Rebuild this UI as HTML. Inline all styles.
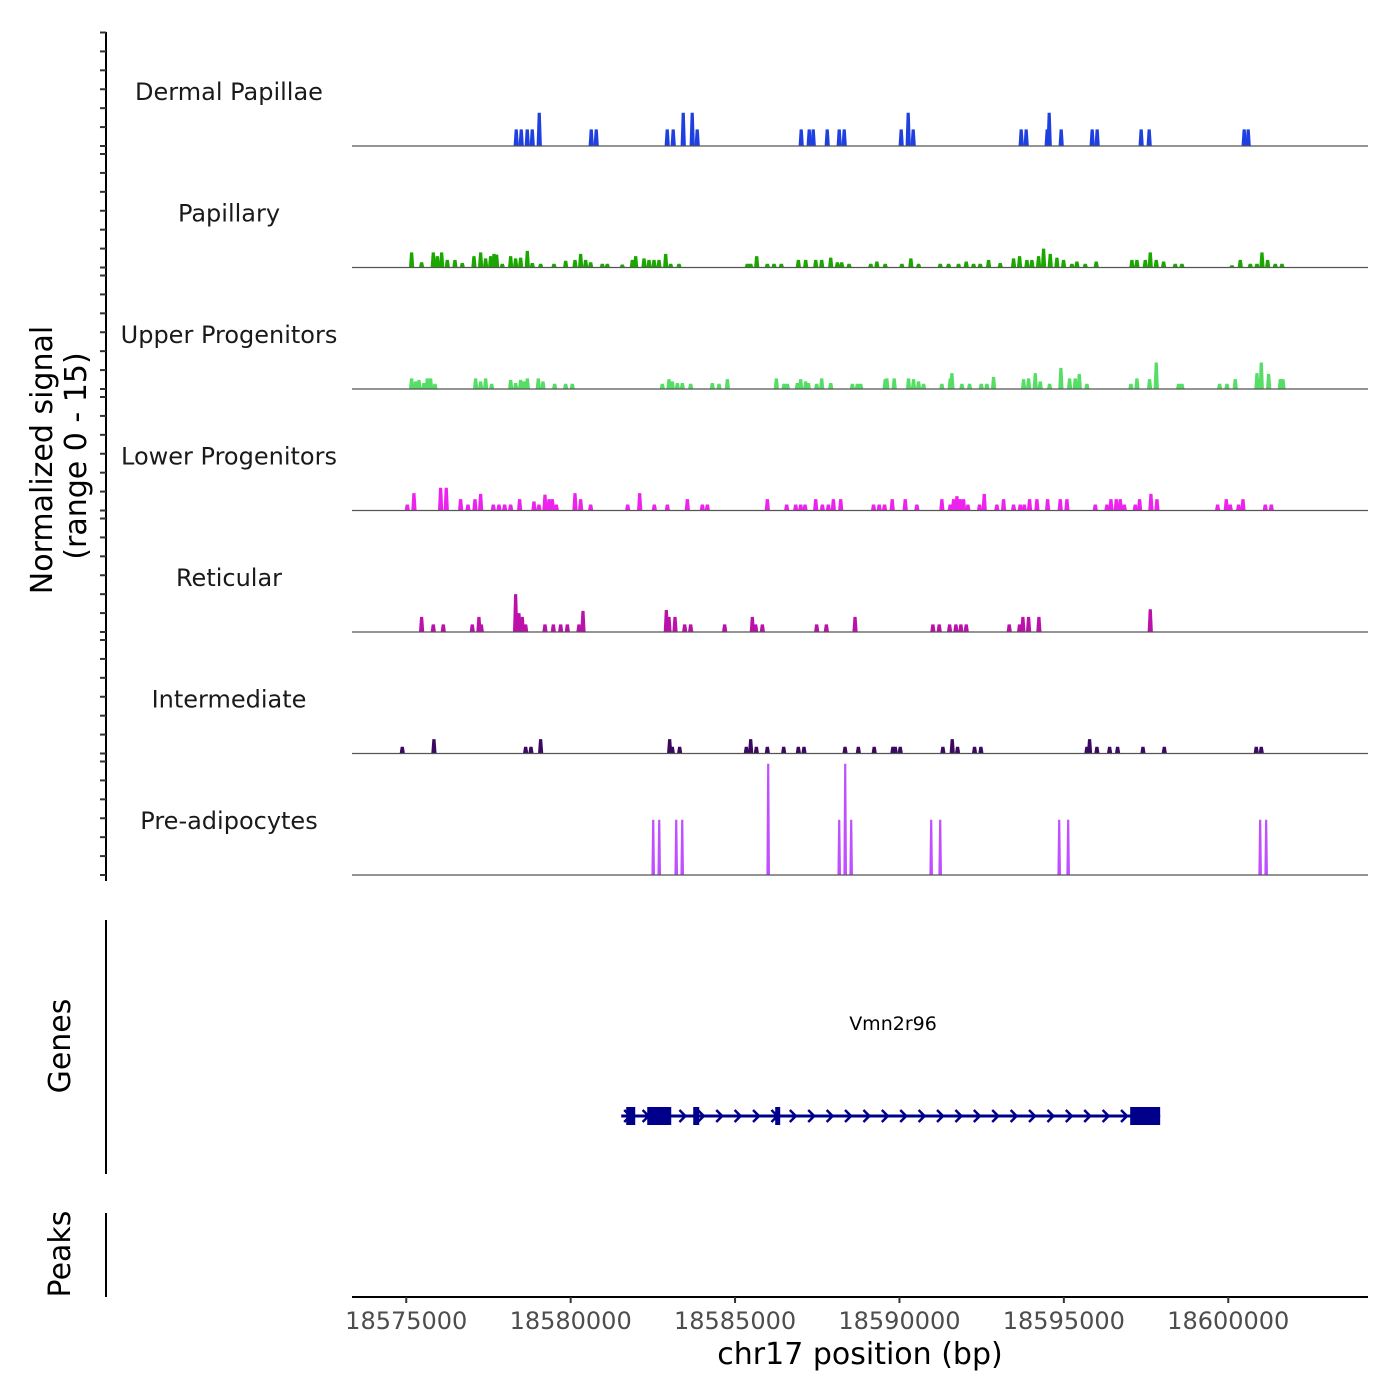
<!DOCTYPE html>
<html><head><meta charset="utf-8">
<style>
html,body{margin:0;padding:0;background:#fff;}
svg{display:block;font-family:"DejaVu Sans","Liberation Sans",sans-serif;}
</style></head>
<body>
<svg id="chart" width="1400" height="1400" viewBox="0 0 1400 1400">
<g id="tracks"></g>
<g id="axes"></g>
</svg>
<script>
// region / axis data
const REGION_START = 18573350;
const REGION_END = 18604250;
const OFFSET_BASE = 18575000;
const xTicks = [18575000, 18580000, 18585000, 18590000, 18595000, 18600000];
const yMax = 15;
const trackNames = ["Dermal Papillae","Papillary","Upper Progenitors","Lower Progenitors","Reticular","Intermediate","Pre-adipocytes"];
const trackColors = ["#1f40e0","#1aa800","#55dd66","#ee22ee","#bb11aa","#3b0a60","#c050ff"];

// peak positions (bp offset from 18,575,000) and heights (normalized signal)
const dermalPos = [3345,3497,3680,3832,4045,5626,5778,7937,8119,8424,8697,8849,12012,12255,12377,12803,13168,13320,15053,15266,15418,18702,18854,19493,19554,19919,20861,21013,22351,22595,25484,25606];
const dermalVal = [2.2,2.2,2.2,2.2,4.4,2.2,2.2,2.2,2.2,4.4,4.4,2.2,2.2,2.2,2.2,2.2,2.2,2.2,2.2,4.4,2.2,2.2,2.2,2.2,4.4,2.2,2.2,2.2,2.2,2.2,2.2,2.2];

const papPos = [163,467,822,944,1076,1248,1481,1704,2059,2262,2414,2566,2668,2749,2921,3175,3327,3479,3682,3834,4087,4493,4848,5132,5304,5456,5608,5963,6115,6571,6876,6977,7231,7383,7535,7687,7890,8042,8295,10374,10475,10658,10982,11185,11408,11925,12148,12453,12635,12909,13112,13244,13467,14126,
14313,14567,15074,15347,15581,16240,16493,16797,17031,17254,17456,17710,18065,18470,18653,18876,19028,19231,19383,19586,19789,19991,20245,20397,20651,20985,22070,22222,22476,22628,22810,23033,23388,23591,25112,25366,25670,25873,26025,26197,26430,26633];
const papVal = [2,0.7,2,1.5,2,1,1,0.6,1.5,2,1.2,1.5,1.8,1.7,0.5,1.5,1.2,1.3,2.2,0.6,0.5,0.5,0.9,1,1.8,1,0.7,0.5,0.5,0.4,1,1.5,1.2,1,1,1,1.8,0.5,0.5,0.5,0.5,1.5,0.5,0.5,0.5,1,1,1,1,1.3,0.7,0.7,0.5,0.5,
0.8,0.5,0.5,1.2,0.5,0.5,0.5,0.5,0.8,0.5,0.5,1,0.6,1.2,1.5,1,1,1.5,2.5,1.8,1.3,1,0.5,0.8,0.5,0.8,1,1,1,2,1,0.8,0.5,0.5,0.3,1,0.5,0.5,2,1,0.5,0.5];

const upPos = [163,285,386,538,640,741,873,2110,2262,2414,2597,3175,3327,3479,3580,3682,4016,4158,4513,4848,5050,7788,7991,8092,8244,8397,8650,9309,9512,9766,11256,11489,11591,11895,11996,12148,12230,12483,12635,12909,13568,13720,13822,
14567,14617,14840,15276,15428,15581,15733,16290,16544,16595,16899,17132,17487,17659,17862,18775,18927,19130,19282,19566,19910,20174,20346,20468,20701,22040,22222,22607,22810,23490,23591,24737,24960,25213,25873,26004,26228,26583,26664];
const upVal = [1.4,1,1.2,0.8,1.4,1.4,0.7,1.4,1,1.4,0.7,1.2,0.8,1.2,1,1.4,1.4,1,0.7,0.7,0.7,0.7,1.3,1,0.8,0.8,0.7,0.8,0.7,1.3,1.4,0.7,0.7,0.8,1.3,1,0.8,0.7,1.4,0.8,0.7,0.7,0.7,
1.3,1.4,1.4,1.4,1.3,1,0.7,0.7,1.4,2.1,0.7,0.7,0.7,0.7,1.6,1.3,1.4,2.1,1,0.7,2.8,1.4,1.4,2,0.7,0.7,1.4,1.3,3.5,0.7,0.7,0.7,0.7,1.3,2.1,3.5,2,1.3,1.3];

const lowPos = [31,234,1045,1217,1654,1877,2090,2262,2647,2820,2992,3175,3448,3884,4036,4219,4341,4442,4564,5132,5304,5608,6734,7099,7545,7941,8549,9005,9157,10982,11570,11844,11996,12128,12453,12655,12838,12990,13213,
14212,14384,14546,14779,15175,15530,16290,16544,16645,16747,16848,16949,17081,17436,17578,17963,18166,18470,18673,18795,18957,19180,19505,19890,20093,20955,21310,21431,21594,21715,21837,22172,22303,22648,22831,24676,24940,25061,25315,25447,26126,26309];
const lowVal = [0.8,2.3,3,3,1.5,0.8,1.5,2.2,0.8,0.8,0.8,0.8,1.5,1.2,0.8,2.1,1.5,1.5,0.8,2.3,1.5,0.8,0.8,2.3,0.8,0.8,1.5,0.8,0.8,1.5,0.8,0.8,0.8,0.8,1.5,0.8,0.8,1.5,1.5,
0.8,0.8,0.8,1.5,1.5,0.8,1.5,0.8,1.5,1.9,1.5,1.5,0.8,0.8,2.2,0.8,1.5,0.8,0.8,0.8,1.5,1.5,1.5,1.5,1.5,0.8,0.8,1.5,1.5,1.5,0.8,0.8,1.5,2.2,1.5,0.8,1.5,0.8,0.8,1.5,0.8,0.8];

const retPos = [467,822,1126,2008,2211,2282,3327,3428,3529,3631,4219,4473,4696,4899,5253,5375,7910,7991,8174,8468,8650,9684,10526,10627,10830,12483,12777,13649,16017,16209,16524,16716,16868,17031,18339,18653,18754,18927,19241,22628];
const retVal = [2,1,1,1,2,1,5,2.5,2,1,1,1,1,1,1,2.8,2.9,2,2,1,1,1,2,1,1,1,1,2,1,1,1,1,1,1,1,1,2,2,2,3];

const intPos = [-121,842,3631,3793,4087,8011,8092,8315,10343,10475,10648,10982,11479,11925,12097,13345,13750,14232,14800,14871,15023,16321,16605,16767,17284,17477,20701,20782,21005,21391,21634,22405,23054,25852,26004];
const intVal = [0.9,1.9,0.9,0.9,1.9,1.9,0.9,0.9,0.9,1.9,0.9,0.9,0.9,0.9,0.9,0.9,0.9,0.9,0.9,0.9,0.9,0.9,1.9,0.9,0.9,0.9,0.9,1.9,0.9,0.9,0.9,0.9,0.9,0.9,0.9];

const prePos = [7511,7694,8211,8393,11008,13168,13350,13532,15965,16239,19858,20131,25970,26153];
const preVal = [7.3,7.3,7.3,7.3,14.7,7.3,14.7,7.3,7.3,7.3,7.3,7.3,7.3,7.3];

// gene model (bp offsets)
const geneStart = 6538, geneEnd = 22929;
const exonStarts = [6690, 7329, 8728, 11221, 22017];
const exonEnds   = [6964, 8059, 8910, 11373, 22929];

const trackPos = [dermalPos,papPos,upPos,lowPos,retPos,intPos,prePos];
const trackVal = [dermalVal,papVal,upVal,lowVal,retVal,intVal,preVal];

// layout
const X0 = 352, X1 = 1368;
const baselines = [146, 267.5, 389, 510.5, 632, 753.5, 875];
const unitPx = 113.5 / yMax;
function xScale(bp){ return X0 + (bp - REGION_START) / (REGION_END - REGION_START) * (X1 - X0); }
function yScale(v, t){ return baselines[t] - v * unitPx; }

const NS = "http://www.w3.org/2000/svg";
function mk(tag, attrs, parent){ const e = document.createElementNS(NS, tag); for (const k in attrs) e.setAttribute(k, attrs[k]); parent.appendChild(e); return e; }

const tracks = document.getElementById('tracks');
const axes = document.getElementById('axes');

for (let t = 0; t < 7; t++) {
  const g = mk('g', {}, tracks);
  
  
  const lab = mk('text', {x: 229, y: baselines[t] - 46, 'text-anchor': 'middle', 'font-size': 24, fill: '#1a1a1a'}, g);
  lab.textContent = trackNames[t];
  
  
  const pos = trackPos[t], val = trackVal[t];
  const halfW = t === 6 ? 55 : 80;
  for (let i = 0; i < pos.length; i++) {
    const c = OFFSET_BASE + pos[i];
    const xa = xScale(c - halfW), xb = xScale(c + halfW);
    const xm1 = xScale(c - halfW * 0.6), xm2 = xScale(c + halfW * 0.6);
    const yb = baselines[t], yt = yScale(val[i], t);
    const p = mk('polygon', {points: `${xa},${yb} ${xm1},${yt} ${xm2},${yt} ${xb},${yb}`, fill: trackColors[t]}, g);
    
    
  }
  const bl = mk('line', {x1: X0, x2: X1, y1: baselines[t], y2: baselines[t], stroke: '#555', 'stroke-width': 1.2}, g);
  
  
}

// left y axis
const yax = mk('line', {x1: 106, x2: 106, y1: 32, y2: 881, stroke: '#000', 'stroke-width': 2}, axes);


for (let t = 0; t < 7; t++) {
  for (let k = 0; k <= 6; k++) {
    const y = yScale(k * 2.5, t);
    const tk = mk('line', {x1: 100, x2: 106, y1: y, y2: y, stroke: '#333', 'stroke-width': 2}, axes);
    
    
  }
}
const yt1 = mk('text', {x: 0, y: 0, transform: 'translate(52,460) rotate(-90)', 'text-anchor': 'middle', 'font-size': 30, fill: '#000'}, axes);
yt1.textContent = 'Normalized signal';


const yt2 = mk('text', {x: 0, y: 0, transform: 'translate(86,456) rotate(-90)', 'text-anchor': 'middle', 'font-size': 30, fill: '#000'}, axes);
yt2.textContent = '(range 0 - 15)';



// genes panel
const gax = mk('line', {x1: 106, x2: 106, y1: 920, y2: 1174, stroke: '#000', 'stroke-width': 2}, axes);


const gl = mk('text', {x: 0, y: 0, transform: 'translate(70,1046) rotate(-90)', 'text-anchor': 'middle', 'font-size': 30, fill: '#000'}, axes);
gl.textContent = 'Genes';



const gene = mk('g', {}, tracks);


const gx0 = xScale(OFFSET_BASE + geneStart), gx1 = xScale(OFFSET_BASE + geneEnd);
const gline = mk('line', {x1: gx0, x2: gx1, y1: 1116, y2: 1116, stroke: '#00008b', 'stroke-width': 3}, gene);


for (let x = gx0 + 6; x < gx1 - 20; x += 18.4) {
  const ch = mk('polyline', {points: `${x-3},${1110} ${x+3},${1116} ${x-3},${1122}`, fill: 'none', stroke: '#00008b', 'stroke-width': 2.5}, gene);
  
  
}
for (let i = 0; i < exonStarts.length; i++) {
  const xa = xScale(OFFSET_BASE + exonStarts[i]), xb = xScale(OFFSET_BASE + exonEnds[i]);
  const r = mk('rect', {x: xa, y: 1107, width: Math.max(3, xb - xa), height: 18, fill: '#00008b'}, gene);
  
  
}
const gname = mk('text', {x: 893, y: 1030, 'text-anchor': 'middle', 'font-size': 19, fill: '#000'}, gene);
gname.textContent = 'Vmn2r96';



// peaks panel
const pax = mk('line', {x1: 106, x2: 106, y1: 1213, y2: 1297, stroke: '#000', 'stroke-width': 2}, axes);


const pl = mk('text', {x: 0, y: 0, transform: 'translate(70,1254) rotate(-90)', 'text-anchor': 'middle', 'font-size': 30, fill: '#000'}, axes);
pl.textContent = 'Peaks';



// x axis
const xax = mk('line', {x1: X0, x2: X1, y1: 1297, y2: 1297, stroke: '#000', 'stroke-width': 2}, axes);


for (const v of xTicks) {
  const x = xScale(v);
  const tk = mk('line', {x1: x, x2: x, y1: 1297, y2: 1303, stroke: '#333', 'stroke-width': 2}, axes);
  
  
  const lb = mk('text', {x: x, y: 1329, 'text-anchor': 'middle', 'font-size': 24, fill: '#4d4d4d'}, axes);
  lb.textContent = String(v);
  
  
}
const xt = mk('text', {x: 860, y: 1364, 'text-anchor': 'middle', 'font-size': 30, fill: '#000'}, axes);
xt.textContent = 'chr17 position (bp)';


</script>
</body></html>
